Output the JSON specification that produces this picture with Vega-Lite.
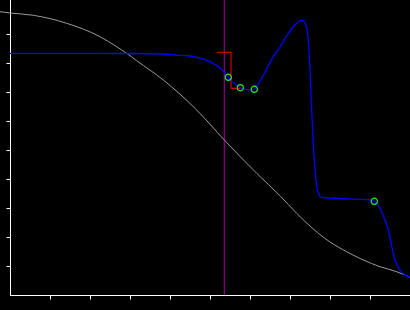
{
  "$schema": "https://vega.github.io/schema/vega-lite/v6.json",
  "width": 400,
  "height": 295,
  "autosize": {"type": "none"},
  "padding": {"left": 10, "top": 0, "right": 0, "bottom": 15},
  "background": "#000000",
  "config": {
    "view": {"stroke": null},
    "axis": {"labels": false, "labelOverlap": false, "title": null, "grid": false, "domainColor": "#ffffff", "domainWidth": 1, "tickColor": "#ffffff", "tickSize": 4, "tickWidth": 1, "domainCap": "square"}
  },
  "datasets": {
    "gray": [
      {"x": -0.25, "y": 9.769}, {"x": 0, "y": 9.724}, {"x": 0.5825, "y": 9.645}, {"x": 1.4175, "y": 9.369},
      {"x": 2.25, "y": 8.907}, {"x": 2.6675, "y": 8.562}, {"x": 2.9175, "y": 8.334}, {"x": 3.1675, "y": 8.079},
      {"x": 3.8325, "y": 7.414}, {"x": 4.6675, "y": 6.379}, {"x": 5.3575, "y": 5.345}, {"x": 6.1675, "y": 4.197},
      {"x": 6.75, "y": 3.424}, {"x": 7.1675, "y": 2.817}, {"x": 7.5825, "y": 2.276}, {"x": 8.0, "y": 1.828},
      {"x": 8.4175, "y": 1.493}, {"x": 8.8325, "y": 1.207}, {"x": 9.25, "y": 0.976}, {"x": 9.6675, "y": 0.803},
      {"x": 10.0, "y": 0.61}
    ],
    "blue": [
      {"x": 0, "y": 8.334}, {"x": 1.25, "y": 8.334}, {"x": 3.0, "y": 8.328}, {"x": 3.825, "y": 8.31},
      {"x": 4.125, "y": 8.276}, {"x": 4.5, "y": 8.241}, {"x": 4.675, "y": 8.197}, {"x": 5.0, "y": 8.045},
      {"x": 5.25, "y": 7.828}, {"x": 5.375, "y": 7.655}, {"x": 5.4575, "y": 7.507}, {"x": 5.6, "y": 7.31},
      {"x": 5.7575, "y": 7.148}, {"x": 5.925, "y": 7.08}, {"x": 6.05, "y": 7.07}, {"x": 6.1075, "y": 7.093},
      {"x": 6.2, "y": 7.26}, {"x": 6.325, "y": 7.55}, {"x": 6.45, "y": 7.88}, {"x": 6.575, "y": 8.207}, {"x": 6.75, "y": 8.552},
      {"x": 6.825, "y": 8.724}, {"x": 6.95, "y": 9.0}, {"x": 7.075, "y": 9.241}, {"x": 7.175, "y": 9.379},
      {"x": 7.25, "y": 9.448}, {"x": 7.3, "y": 9.472}, {"x": 7.35, "y": 9.431}, {"x": 7.4, "y": 9.31},
      {"x": 7.4375, "y": 9.069}, {"x": 7.4625, "y": 8.69}, {"x": 7.5, "y": 7.759}, {"x": 7.5425, "y": 6.379},
      {"x": 7.5825, "y": 5.241}, {"x": 7.65, "y": 3.97}, {"x": 7.7075, "y": 3.517}, {"x": 7.7925, "y": 3.355},
      {"x": 8.0, "y": 3.345}, {"x": 8.7, "y": 3.3}, {"x": 9.0, "y": 3.276}, {"x": 9.1075, "y": 3.231},
      {"x": 9.25, "y": 2.99}, {"x": 9.375, "y": 2.586}, {"x": 9.4575, "y": 2.241}, {"x": 9.5425, "y": 1.69},
      {"x": 9.625, "y": 1.207}, {"x": 9.75, "y": 0.862}, {"x": 9.875, "y": 0.69}, {"x": 10.0, "y": 0.62}
    ],
    "red": [
      {"i": 0, "x": 5.175, "y": 8.369}, {"i": 1, "x": 5.525, "y": 8.369},
      {"i": 2, "x": 5.525, "y": 7.128}, {"i": 3, "x": 5.75, "y": 7.128}
    ],
    "marker": [{"x": 5.3575}],
    "pts": [
      {"x": 5.4575, "y": 7.507}, {"x": 5.7575, "y": 7.148}, {"x": 6.1075, "y": 7.093}, {"x": 9.1075, "y": 3.231}
    ]
  },
  "layer": [
    {
      "data": {"name": "marker"},
      "mark": {"type": "rule", "color": "#8b008b", "strokeWidth": 1.2},
      "encoding": {
        "x": {"field": "x", "type": "quantitative", "scale": {"domain": [0, 10], "nice": false, "zero": false}, "axis": {"values": [1, 2, 3, 4, 5, 6, 7, 8, 9]}}
      }
    },
    {
      "data": {"name": "gray"},
      "mark": {"type": "line", "color": "#9a9a9a", "strokeWidth": 1, "interpolate": "monotone"},
      "encoding": {
        "x": {"field": "x", "type": "quantitative", "axis": {"values": [1, 2, 3, 4, 5, 6, 7, 8, 9]}},
        "y": {"field": "y", "type": "quantitative", "scale": {"domain": [0, 10.1724], "nice": false, "zero": false}, "axis": {"values": [1, 2, 3, 4, 5, 6, 7, 8, 9], "tickCount": 10}}
      }
    },
    {
      "data": {"name": "blue"},
      "mark": {"type": "line", "color": "#0000ff", "strokeWidth": 1.3, "interpolate": "monotone"},
      "encoding": {
        "x": {"field": "x", "type": "quantitative", "axis": {"values": [1, 2, 3, 4, 5, 6, 7, 8, 9]}},
        "y": {"field": "y", "type": "quantitative", "axis": {"values": [1, 2, 3, 4, 5, 6, 7, 8, 9], "tickCount": 10}}
      }
    },
    {
      "data": {"name": "red"},
      "mark": {"type": "line", "color": "#cc0000", "strokeWidth": 1.2},
      "encoding": {
        "x": {"field": "x", "type": "quantitative"},
        "y": {"field": "y", "type": "quantitative"},
        "order": {"field": "i", "type": "quantitative"}
      }
    },
    {
      "data": {"name": "pts"},
      "mark": {"type": "point", "shape": "circle", "filled": false, "color": "#2ee82e", "strokeWidth": 1.2, "size": 38, "opacity": 1},
      "encoding": {
        "x": {"field": "x", "type": "quantitative"},
        "y": {"field": "y", "type": "quantitative"}
      }
    }
  ]
}
